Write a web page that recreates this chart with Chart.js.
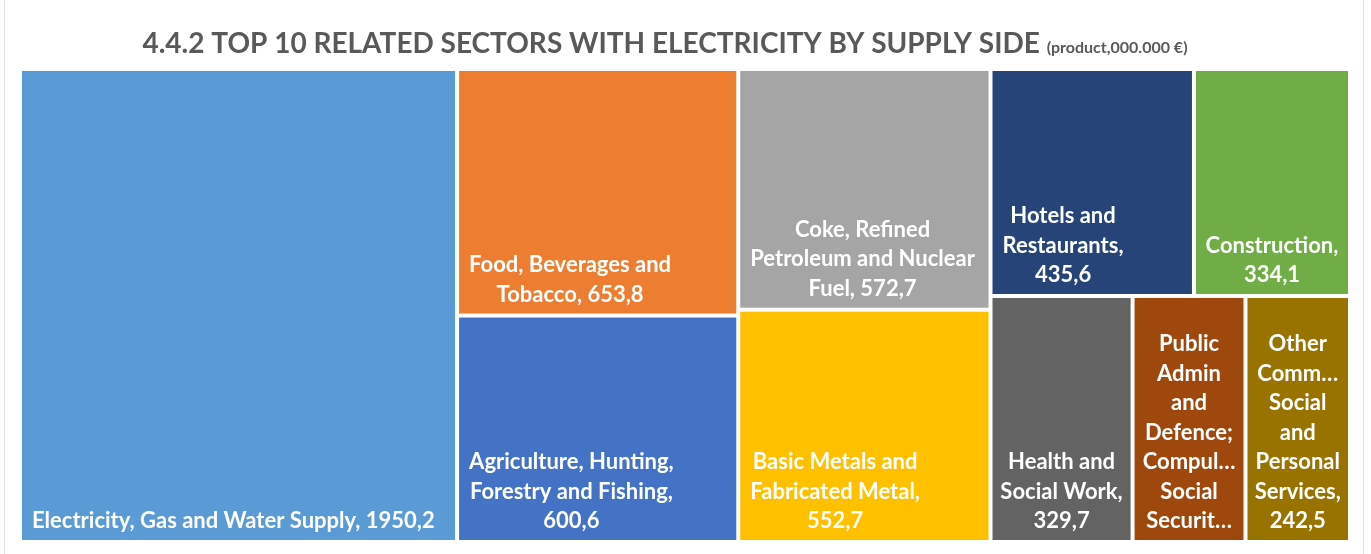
<!DOCTYPE html>
<html>
<head>
<meta charset="utf-8">
<script src="https://cdn.jsdelivr.net/npm/chart.js@4/dist/chart.umd.min.js"></script>
<style>
  html, body { margin: 0; padding: 0; background: #fff; }
  canvas { display: block; }
</style>
</head>
<body>
<canvas id="treemap" width="1371" height="554"></canvas>
<script>
// Dados (ordenados do maior para o menor)
const sectors = [
  'Electricity, Gas and Water Supply',
  'Food, Beverages and Tobacco',
  'Agriculture, Hunting, Forestry and Fishing',
  'Coke, Refined Petroleum and Nuclear Fuel',
  'Basic Metals and Fabricated Metal',
  'Hotels and Restaurants',
  'Construction',
  'Health and Social Work',
  'Public Admin and Defence; Compulsory Social Security',
  'Other Community, Social and Personal Services'
];
const values = [1950.2, 653.8, 600.6, 572.7, 552.7, 435.6, 334.1, 329.7, 262.0, 242.5];
const colors = ['#5B9BD5', '#ED7D31', '#4472C4', '#A5A5A5', '#FFC000',
                '#264478', '#70AD47', '#636363', '#9E480E', '#997300'];
// quantos retângulos vão em cada faixa do treemap
const stripSizes = [1, 2, 2, 2, 3];

const titleMain = '4.4.2 TOP 10 RELATED SECTORS WITH ELECTRICITY BY SUPPLY SIDE';
const titleUnit = '(product,000.000 €)';

const fmt = v => v.toFixed(1).replace('.', ',');

// Quebra o texto em linhas, cortando palavras longas com "…"
function wrapLabel(ctx, text, maxW, maxLines) {
  const fit = w => {
    if (ctx.measureText(w).width <= maxW) return w;
    let s = w;
    while (s.length > 1 && ctx.measureText(s + '…').width > maxW) s = s.slice(0, -1);
    return s + '…';
  };
  const words = text.split(' ');
  const lines = [];
  let cur = '';
  words.forEach(w => {
    const test = cur ? cur + ' ' + w : w;
    if (ctx.measureText(test).width <= maxW) cur = test;
    else {
      if (cur) lines.push(cur);
      cur = fit(w);
    }
  });
  if (cur) lines.push(cur);
  if (lines.length > maxLines) {
    const out = lines.slice(0, maxLines);
    let last = out[maxLines - 1].replace(/[,;.]$/, '');
    if (!last.endsWith('…')) last = last.slice(0, -1);
    while (last.length > 1 && ctx.measureText(last + '…').width > maxW) last = last.slice(0, -1);
    out[maxLines - 1] = last.endsWith('…') ? last : last + '…';
    return out;
  }
  return lines;
}

const treemapPlugin = {
  id: 'treemap',
  beforeDraw(chart) {
    const { ctx, width, height } = chart;
    ctx.save();
    ctx.strokeStyle = '#E4E4E4';
    ctx.lineWidth = 1;
    ctx.beginPath();
    ctx.moveTo(4.5, 0); ctx.lineTo(4.5, height);
    ctx.moveTo(width - 7.5, 0); ctx.lineTo(width - 7.5, height);
    ctx.stroke();

    // título
    ctx.fillStyle = '#595959';
    ctx.textBaseline = 'alphabetic';
    ctx.font = 'bold 28px Lato';
    const w1 = ctx.measureText(titleMain + ' ').width;
    ctx.font = 'bold 16px Lato';
    const w2 = ctx.measureText(titleUnit).width;
    let tx = 665 - (w1 + w2) / 2;
    ctx.font = 'bold 28px Lato';
    ctx.fillText(titleMain, tx, 53);
    ctx.font = 'bold 16px Lato';
    ctx.fillText(titleUnit, tx + w1, 53);
    ctx.restore();
  },
  afterDatasetsDraw(chart) {
    const { ctx, scales: { x, y } } = chart;
    const px = v => x.getPixelForValue(v);
    const py = v => y.getPixelForValue(v);
    const total = values.reduce((a, b) => a + b, 0);

    // layout em unidades de dados (0..1 nos dois eixos)
    let rx = 0, ry = 0, rw = 1, rh = 1, rest = total, i = 0;
    const cells = [];
    stripSizes.forEach((n, s) => {
      const items = values.slice(i, i + n);
      const sum = items.reduce((a, b) => a + b, 0);
      const pw = Math.abs(px(rx + rw) - px(rx));
      const ph = Math.abs(py(ry + rh) - py(ry));
      const last = s === stripSizes.length - 1;
      const column = last ? pw < ph : ph <= pw;
      if (column) {
        const cw = rw * sum / rest;
        let cy = ry;
        items.forEach((v, k) => {
          const ch = rh * v / sum;
          cells.push({ idx: i + k, x0: rx, y0: cy, x1: rx + cw, y1: cy + ch });
          cy += ch;
        });
        rx += cw; rw -= cw;
      } else {
        const ch = rh * sum / rest;
        let cx = rx;
        items.forEach((v, k) => {
          const cw = rw * v / sum;
          cells.push({ idx: i + k, x0: cx, y0: ry, x1: cx + cw, y1: ry + ch });
          cx += cw;
        });
        ry += ch; rh -= ch;
      }
      rest -= sum;
      i += n;
    });

    ctx.save();
    const lineH = 29.5;
    cells.forEach(c => {
      const l = px(c.x0) + 2, r = px(c.x1) - 2;
      const t = Math.min(py(c.y0), py(c.y1)) + 2, b = Math.max(py(c.y0), py(c.y1)) - 2;
      ctx.fillStyle = colors[c.idx];
      ctx.fillRect(l, t, r - l, b - t);

      ctx.font = 'bold 22px Lato';
      const w = r - l;
      const maxW = w - Math.min(20, 0.06 * w + 6.5);
      const maxLines = Math.floor((b - t - 20) / lineH);
      const lines = wrapLabel(ctx, sectors[c.idx] + ', ' + fmt(values[c.idx]), maxW, maxLines);
      const blockW = Math.max(...lines.map(s => ctx.measureText(s).width));
      const cx = l + Math.min(10, (w - blockW) / 2) + blockW / 2;
      ctx.fillStyle = '#FFFFFF';
      ctx.textAlign = 'center';
      ctx.textBaseline = 'middle';
      lines.forEach((s, k) => {
        ctx.fillText(s, cx, b - 19 - (lines.length - 1 - k) * lineH);
      });
    });
    ctx.restore();
  }
};

new Chart(document.getElementById('treemap'), {
  type: 'scatter',
  data: { datasets: [] },
  options: {
    responsive: false,
    animation: false,
    devicePixelRatio: 1,
    layout: { padding: { left: 20, right: 21, top: 69, bottom: 12 } },
    plugins: { legend: { display: false }, tooltip: { enabled: false } },
    scales: {
      x: { type: 'linear', min: 0, max: 1, display: false },
      y: { type: 'linear', min: 0, max: 1, reverse: true, display: false }
    }
  },
  plugins: [treemapPlugin]
});
</script>
</body>
</html>
